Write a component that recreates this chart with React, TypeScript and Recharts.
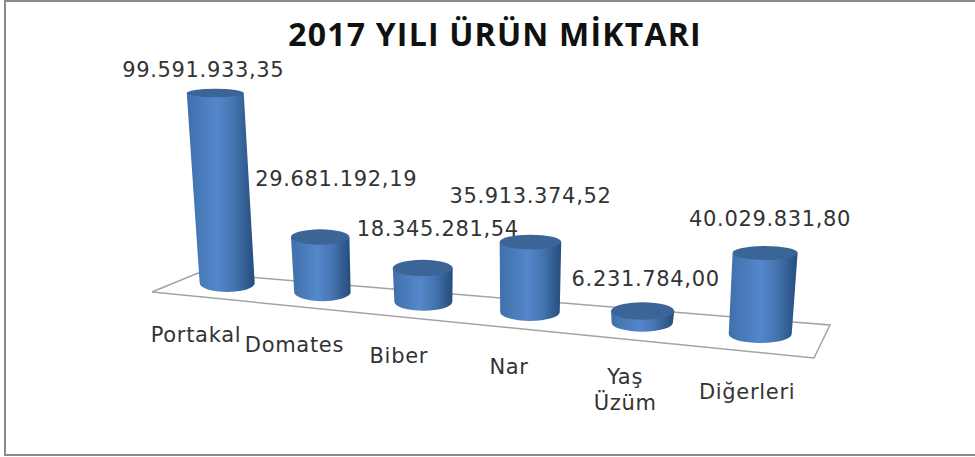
import React from "react";
import { BarChart, Bar, XAxis, YAxis, LabelList } from "recharts";

const categories = ["Portakal", "Domates", "Biber", "Nar", "Yaş Üzüm", "Diğerleri"];
const amounts = [99591933.35, 29681192.19, 18345281.54, 35913374.52, 6231784.0, 40029831.8];
const amountLabels = ["99.591.933,35", "29.681.192,19", "18.345.281,54", "35.913.374,52", "6.231.784,00", "40.029.831,80"];
const titleText = "2017 YILI ÜRÜN MİKTARI";

const rows = categories.map((name, i) => ({ name, amount: amounts[i], label: amountLabels[i] }));

// Layout of the faux-3D projection
const W = 975;
const H = 457;
const PLOT_H = 240;
const BASE_Y = 283;
const LEFT_X = 227;
const RIGHT_X = 760;
const BAND = (RIGHT_X - LEFT_X) / 5;
const labelNudge = [
  { dx: -12, dy: -24 },
  { dx: 16, dy: -59 },
  { dx: 15, dy: -40 },
  { dx: 0, dy: -47 },
  { dx: 3, dy: -33 },
  { dx: 5, dy: -35 },
];

const projectX = (x: number) => x - 0.00025 * (x - LEFT_X) * (RIGHT_X - x);
const floorY = (px: number) => BASE_Y + (px - LEFT_X) * 0.0957;

function geometry(x: number, width: number, y: number, height: number) {
  const base = projectX(x + width / 2);
  const mil = height / (PLOT_H / 120);
  const h = mil * (1.76 + 0.0004 * (base - LEFT_X) + 0.0015 * mil);
  const bottom = floorY(base);
  const top = Math.round(bottom - h);
  const cxTop = base + (base - 500) * 0.00023 * h;
  const w = 55 + (base - LEFT_X) * 0.015;
  return { base, bottom, top, cxTop, w, h };
}

function Cylinder(props: any) {
  const { x, y, width, height } = props;
  const { base, bottom, top, cxTop, w, h } = geometry(x, width, y, height);
  const rb = w / 2;
  const rt = rb + 1;
  const ryB = 9;
  const ryT = 9 - 0.025 * h;
  const d = `M ${cxTop - rt} ${top} L ${base - rb} ${bottom} A ${rb} ${ryB} 0 0 0 ${base + rb} ${bottom} L ${cxTop + rt} ${top} Z`;
  return (
    <g>
      <path d={d} fill="url(#cylSide)" />
      <ellipse cx={cxTop} cy={top} rx={rt} ry={ryT} fill="#3B6596" />
    </g>
  );
}

function ValueLabel(props: any) {
  const { x, y, width, height, index, value } = props;
  const { cxTop, top } = geometry(x, width, y, height);
  const n = labelNudge[index];
  return (
    <text
      x={cxTop + n.dx}
      y={top + n.dy}
      dy="0.36em"
      textAnchor="middle"
      fontFamily="DejaVu Sans"
      fontSize={21}
      letterSpacing={0.65}
      fill="#333"
    >
      {value}
    </text>
  );
}

function CategoryTick(props: any) {
  const { x, payload } = props;
  const base = projectX(x);
  const cx = base - 31 + (base - LEFT_X) * 0.034;
  const cy = 334 + (base - LEFT_X) * 0.107;
  const words = String(payload.value).split(" ");
  return (
    <text x={cx} textAnchor="middle" fontFamily="DejaVu Sans" fontSize={21} fill="#333" letterSpacing={0.7}>
      {words.map((word, i) => (
        <tspan key={word} x={cx} y={cy + (words.length > 1 ? -2 : 0) + i * 26} dy="0.36em">
          {word}
        </tspan>
      ))}
    </text>
  );
}

export default function App() {
  return (
    <div style={{ position: "absolute", left: 0, top: 0, width: W, height: H, background: "#fff" }}>
      <BarChart
        width={W}
        height={H}
        data={rows}
        barSize={55}
        margin={{ top: BASE_Y - PLOT_H, bottom: H - BASE_Y - 30, left: LEFT_X - BAND / 2, right: W - RIGHT_X - BAND / 2 }}
      >
        <defs>
          <linearGradient id="cylSide" x1="0" y1="0" x2="1" y2="0">
            <stop offset="0" stopColor="#3F70AB" />
            <stop offset="0.45" stopColor="#5487CB" />
            <stop offset="0.7" stopColor="#4574B0" />
            <stop offset="1" stopColor="#254C7C" />
          </linearGradient>
        </defs>
        <rect x={5} y={1} width={W + 10} height={454} fill="#fff" stroke="#8a8a8a" strokeWidth={2} />
        <polygon points="152,292 198,273 830,325 814,358" fill="#fff" stroke="#a3a3a3" strokeWidth={1.5} />
        <text
          x={495}
          y={46}
          textAnchor="middle"
          fontFamily="Open Sans"
          fontWeight={700}
          fontSize={32}
          letterSpacing={1.2}
          fill="#111"
        >
          {titleText}
        </text>
        <XAxis dataKey="name" height={30} axisLine={false} tickLine={false} interval={0} tick={<CategoryTick />} />
        <YAxis hide domain={[0, 120000000]} />
        <Bar dataKey="amount" isAnimationActive={false} shape={<Cylinder />}>
          <LabelList dataKey="label" content={<ValueLabel />} />
        </Bar>
      </BarChart>
    </div>
  );
}
